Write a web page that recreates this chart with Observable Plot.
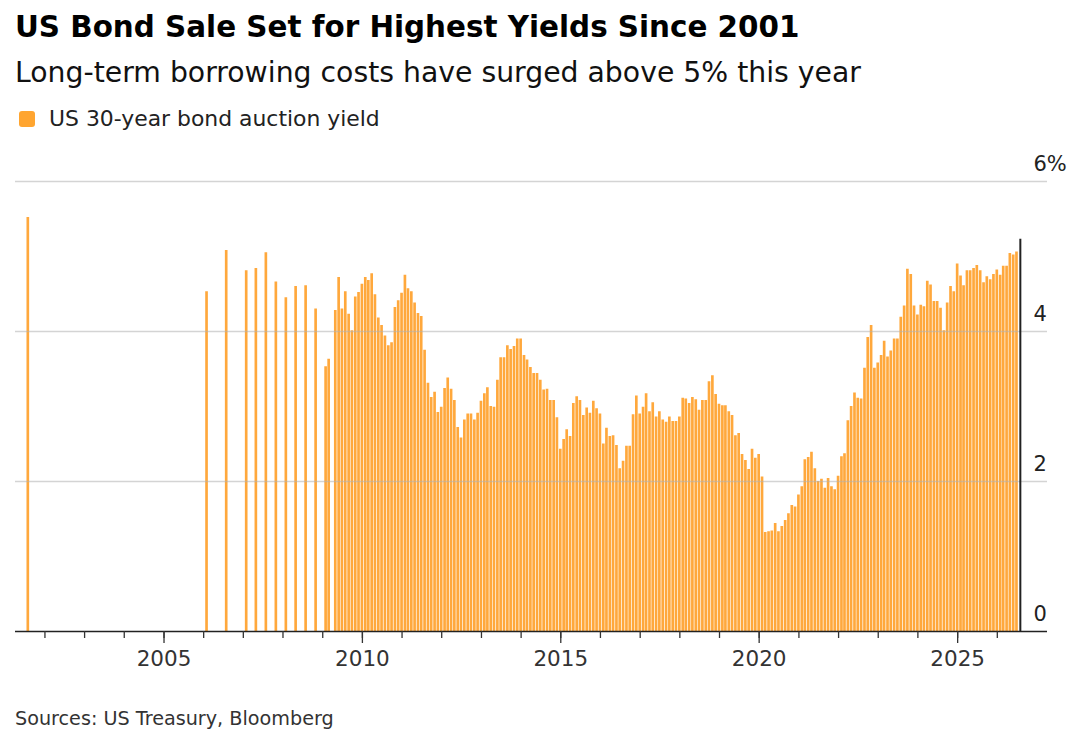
<!DOCTYPE html>
<html>
<head>
<meta charset="utf-8">
<script src="https://cdn.jsdelivr.net/npm/d3@7"></script>
<script src="https://cdn.jsdelivr.net/npm/@observablehq/plot@0.6"></script>
<style>
  html, body { margin: 0; padding: 0; background: #fff; }
  body { width: 1080px; height: 756px; position: relative; overflow: hidden; font-family: "DejaVu Sans", sans-serif; }
  .t { position: absolute; white-space: nowrap; line-height: 1; }
  #title { left: 15px; top: 12.5px; font-size: 29.4px; font-weight: bold; color: #000; }
  #subtitle { left: 15px; top: 59px; font-size: 28.3px; color: #111; }
  #swatch { position: absolute; left: 18.5px; top: 111px; width: 16px; height: 16px; border-radius: 3px; background: #ffa530; }
  #legend { left: 49px; top: 107.5px; font-size: 21.9px; color: #222; }
  #source { left: 15px; top: 709px; font-size: 19.2px; color: #333; }
  #chart { position: absolute; left: 0; top: 140px; }
</style>
</head>
<body>
<div class="t" id="title">US Bond Sale Set for Highest Yields Since 2001</div>
<div class="t" id="subtitle">Long-term borrowing costs have surged above 5% this year</div>
<div id="swatch"></div>
<div class="t" id="legend">US 30-year bond auction yield</div>
<div id="chart"></div>
<div class="t" id="source">Sources: US Treasury, Bloomberg</div>
<script>
// Sparse auctions before monthly issuance resumed
const sparseMonths = ["2001-08","2006-02","2006-08","2007-02","2007-05","2007-08","2007-11","2008-02","2008-05","2008-08","2008-11","2009-02","2009-03"];
const sparseYields = [5.52, 4.53, 5.08, 4.81, 4.84, 5.05, 4.66, 4.45, 4.60, 4.61, 4.30, 3.53, 3.63];

// Monthly auctions from May 2009 to Jul 2026 (%)
const monthlyStart = "2009-05";
const yields2009 = [4.28, 4.72, 4.30, 4.53, 4.23, 4.01, 4.46, 4.52];
const yields2010 = [4.63, 4.72, 4.68, 4.77, 4.49, 4.18, 4.08, 3.94, 3.81, 3.85, 4.32, 4.41];
const yields2011 = [4.51, 4.75, 4.57, 4.53, 4.38, 4.24, 4.20, 3.75, 3.31, 3.12, 3.19, 2.92];
const yields2012 = [2.99, 3.24, 3.38, 3.23, 3.08, 2.72, 2.58, 2.82, 2.90, 2.90, 2.82, 2.91];
const yields2013 = [3.07, 3.17, 3.25, 3.00, 2.99, 3.35, 3.65, 3.65, 3.81, 3.76, 3.80, 3.90];
const yields2014 = [3.90, 3.68, 3.62, 3.52, 3.44, 3.44, 3.35, 3.22, 3.23, 3.08, 3.08, 2.85];
const yields2015 = [2.43, 2.56, 2.69, 2.60, 3.04, 3.13, 3.08, 2.88, 2.98, 2.91, 3.07, 2.97];
const yields2016 = [2.90, 2.50, 2.71, 2.60, 2.61, 2.48, 2.17, 2.27, 2.47, 2.47, 2.89, 3.14];
const yields2017 = [2.90, 2.99, 3.17, 2.93, 3.05, 2.86, 2.93, 2.82, 2.79, 2.86, 2.80, 2.80];
const yields2018 = [2.86, 3.11, 3.10, 3.04, 3.12, 3.09, 2.95, 3.08, 3.08, 3.33, 3.41, 3.16];
const yields2019 = [3.03, 3.01, 3.01, 2.93, 2.88, 2.61, 2.64, 2.36, 2.28, 2.16, 2.43, 2.31];
const yields2020 = [2.36, 2.06, 1.32, 1.33, 1.34, 1.44, 1.33, 1.40, 1.48, 1.57, 1.68, 1.66];
const yields2021 = [1.82, 1.93, 2.29, 2.32, 2.39, 2.17, 2.00, 2.03, 1.91, 2.04, 1.93, 1.89];
const yields2022 = [2.07, 2.33, 2.37, 2.81, 3.00, 3.18, 3.11, 3.10, 3.51, 3.92, 4.08, 3.51];
const yields2023 = [3.58, 3.68, 3.87, 3.66, 3.74, 3.90, 3.90, 4.19, 4.34, 4.83, 4.76, 4.34];
const yields2024 = [4.22, 4.35, 4.33, 4.67, 4.62, 4.40, 4.40, 4.31, 4.01, 4.38, 4.60, 4.53];
const yields2025 = [4.90, 4.74, 4.61, 4.81, 4.81, 4.84, 4.88, 4.81, 4.65, 4.73, 4.69, 4.76];
const yields2026 = [4.82, 4.75, 4.87, 4.87, 5.04, 5.02, 5.06];

// Upcoming auction (black bar)
const upcomingMonth = "2026-08";
const upcomingYield = 5.23;

// Axis ticks
const yTicks = [0, 2, 4, 6];
const yTickLabels = ["0", "2", "4", "6%"];
const xMinorYears = d3.range(2002, 2027);
const xLabelYears = [2005, 2010, 2015, 2020, 2025];

const parseMonth = s => { const [y, m] = s.split("-").map(Number); return new Date(Date.UTC(y, m - 1, 1)); };
const yearDate = y => new Date(Date.UTC(y, 0, 1));

const monthlyYields = [].concat(yields2009, yields2010, yields2011, yields2012, yields2013, yields2014,
  yields2015, yields2016, yields2017, yields2018, yields2019, yields2020, yields2021, yields2022,
  yields2023, yields2024, yields2025, yields2026);

const start = parseMonth(monthlyStart);
const rows = [
  ...sparseMonths.map((m, i) => ({date: parseMonth(m), value: sparseYields[i]})),
  ...monthlyYields.map((v, i) => ({date: d3.utcMonth.offset(start, i), value: v}))
].map(d => ({...d, x1: d3.utcDay.offset(d.date, -15), x2: d3.utcDay.offset(d.date, 15)}));

const upcoming = [{date: parseMonth(upcomingMonth), value: upcomingYield}];

const chart = Plot.plot({
  width: 1080,
  height: 560,
  marginLeft: 15,
  marginRight: 33,
  marginTop: 41,
  marginBottom: 69,
  style: {fontFamily: '"DejaVu Sans", sans-serif', background: "transparent", overflow: "visible"},
  x: {type: "utc", domain: [new Date(Date.UTC(2001, 3, 5)), new Date(Date.UTC(2027, 3, 8))], axis: null, label: null},
  y: {domain: [0, 6], axis: null, label: null},
  marks: [
    Plot.rectY(rows, {x1: "x1", x2: "x2", y: "value", fill: "#ffa83c", insetLeft: 0.3, insetRight: 0.3}),
    Plot.ruleY([2, 4, 6], {stroke: "#b0b0b0", strokeOpacity: 0.55, strokeWidth: 1.4}),
    Plot.ruleX(upcoming, {x: "date", y1: 0, y2: "value", stroke: "#222", strokeWidth: 2}),
    Plot.ruleY([0], {stroke: "#222", strokeWidth: 1.5}),
    Plot.axisX({ticks: xMinorYears.map(yearDate), tickSize: 7, tickFormat: () => "", stroke: "#333", strokeWidth: 1.3, label: null}),
    Plot.axisX({ticks: xLabelYears.map(yearDate), tickSize: 12, tickFormat: () => "", stroke: "#333", strokeWidth: 1.3, label: null}),
    Plot.text(xLabelYears, {x: yearDate, text: d => String(d), frameAnchor: "bottom", lineAnchor: "bottom", dy: 34.3, fontSize: 21.5, fill: "#333"}),
    Plot.text(yTicks, {y: d => d, text: (d, i) => yTickLabels[i], frameAnchor: "right", textAnchor: "start", lineAnchor: "bottom", dx: -14, dy: -10.5, fontSize: 21, fill: "#222"})
  ]
});
document.getElementById("chart").appendChild(chart);
</script>
</body>
</html>
